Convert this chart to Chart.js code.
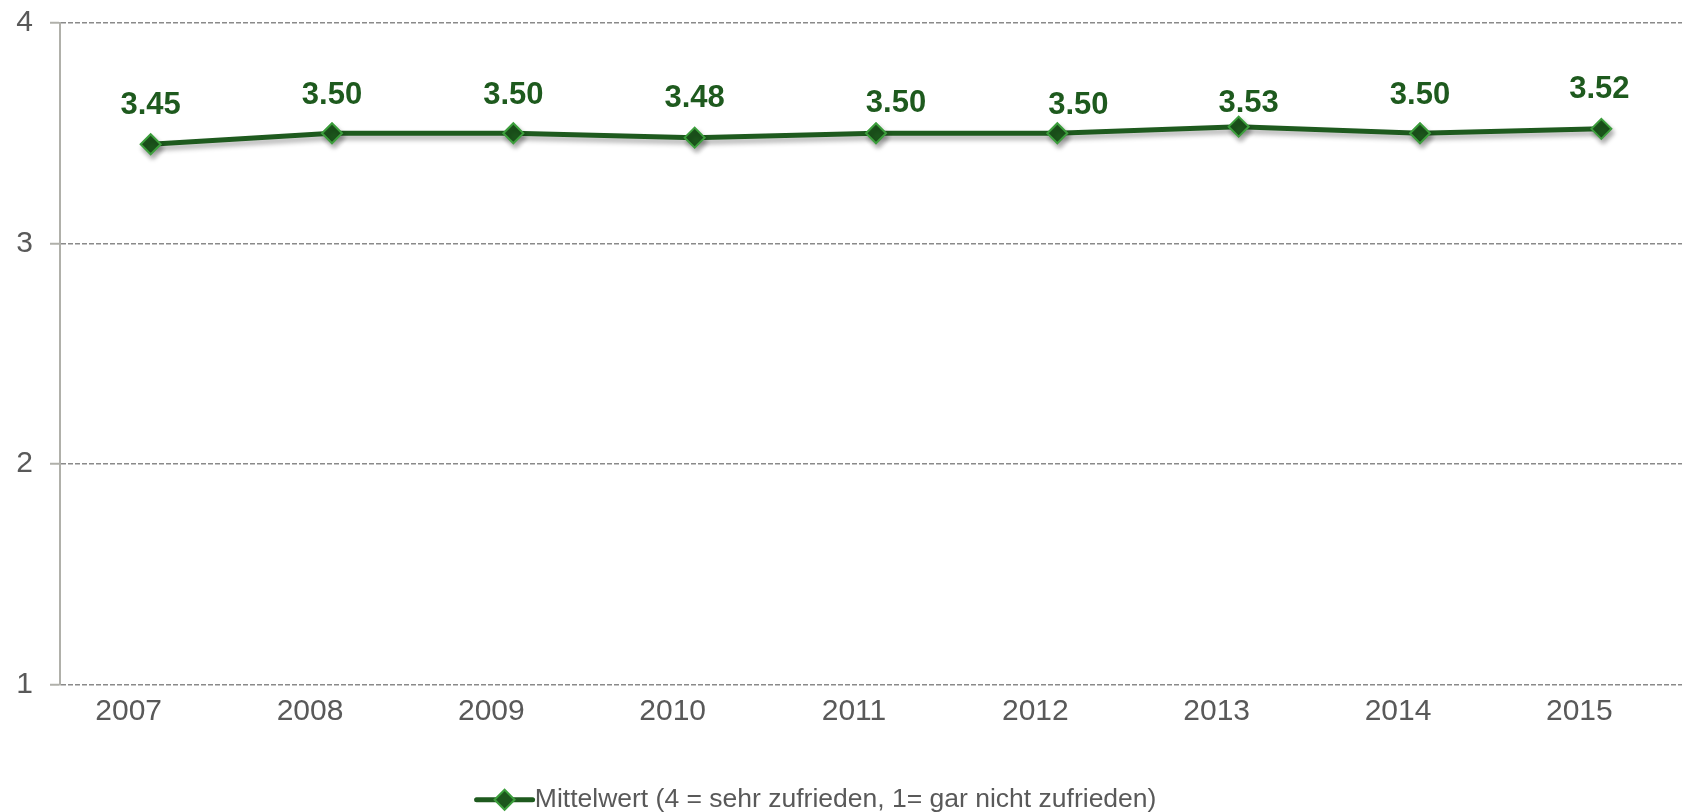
<!DOCTYPE html>
<html>
<head>
<meta charset="utf-8">
<script src="https://cdn.jsdelivr.net/npm/chart.js@4/dist/chart.umd.min.js"></script>
<style>
  html, body { margin: 0; padding: 0; background: #fff; overflow: hidden; width: 1682px; height: 812px; }
  #wrap { position: relative; width: 1682px; height: 812px; overflow: hidden; }
  canvas { display: block; }
</style>
</head>
<body>
<div id="wrap"><canvas id="c" width="1704" height="812"></canvas></div>
<script>
// ---- data ----
const categories = ['2007', '2008', '2009', '2010', '2011', '2012', '2013', '2014', '2015'];
const meanValues = [3.45, 3.50, 3.50, 3.48, 3.50, 3.50, 3.53, 3.50, 3.52];
const yTicks = [1, 2, 3, 4];
const seriesLabel = 'Mittelwert (4 = sehr zufrieden, 1= gar nicht zufrieden)';

// ---- label placement (style, manual offsets like the original) ----
const labelShiftX = [0, 0, 0, 0, 20, 21, 10, 0, -2];
const labelRise   = [39, 38, 38, 39, 30, 28, 23, 38, 39];

const DARK = '#1e5a1e';
const FILL = '#1c561c';
const EDGE = '#3c9e3c';
const TXT = '#595959';
const FONT = "'Liberation Sans', Arial, Helvetica, sans-serif";

const shadowPlugin = {
  id: 'shadow',
  beforeDatasetsDraw(chart) {
    const ctx = chart.ctx;
    ctx.save();
    ctx.shadowColor = 'rgba(0,0,0,0.32)';
    ctx.shadowBlur = 5;
    ctx.shadowOffsetX = 2;
    ctx.shadowOffsetY = 4;
  },
  afterDatasetsDraw(chart) {
    chart.ctx.restore();
    // data labels
    const ctx = chart.ctx;
    const meta = chart.getDatasetMeta(0);
    ctx.save();
    ctx.font = 'bold 31px ' + FONT;
    ctx.fillStyle = DARK;
    ctx.textAlign = 'center';
    ctx.textBaseline = 'middle';
    meta.data.forEach((pt, i) => {
      const v = chart.data.datasets[0].data[i];
      ctx.fillText(v.toFixed(2), pt.x + labelShiftX[i], pt.y - labelRise[i]);
    });
    ctx.restore();
  }
};

const legendPlugin = {
  id: 'legendShift',
  afterLayout(chart) {
    const lg = chart.legend;
    if (lg) { lg.left -= 36; lg.right -= 36; lg.top += 11; lg.bottom += 11; }
  },
  afterDraw(chart) {
    const lg = chart.legend;
    if (!lg || !lg.legendHitBoxes || !lg.legendHitBoxes.length) return;
    const hb = lg.legendHitBoxes[0];
    const ctx = chart.ctx;
    const cy = hb.top + hb.height / 2;
    const x0 = hb.left + 1, x1 = hb.left + 57;
    ctx.save();
    ctx.strokeStyle = DARK;
    ctx.lineWidth = 5;
    ctx.lineCap = 'round';
    ctx.beginPath();
    ctx.moveTo(x0, cy);
    ctx.lineTo(x1, cy);
    ctx.stroke();
    ctx.fillStyle = FILL;
    ctx.strokeStyle = EDGE;
    ctx.lineWidth = 2;
    Chart.helpers.drawPoint(ctx, { pointStyle: 'rectRot', radius: 10, rotation: 0, borderWidth: 2 }, (x0 + x1) / 2, cy);
    ctx.restore();
  }
};

new Chart(document.getElementById('c'), {
  type: 'line',
  data: {
    labels: categories,
    datasets: [{
      label: seriesLabel,
      data: meanValues,
      borderColor: DARK,
      borderWidth: 5,
      backgroundColor: FILL,
      pointStyle: 'rectRot',
      pointRadius: 10,
      pointHoverRadius: 10,
      pointBackgroundColor: FILL,
      pointBorderColor: EDGE,
      pointBorderWidth: 2,
      tension: 0,
      fill: false
    }]
  },
  options: {
    responsive: false,
    maintainAspectRatio: false,
    animation: false,
    events: [],
    layout: { padding: { top: 23, left: 0, right: 0, bottom: 0 } },
    plugins: {
      tooltip: { enabled: false },
      legend: {
        display: true,
        position: 'bottom',
        labels: {
          boxWidth: 46,
          boxHeight: 20,
          padding: 6,
          color: TXT,
          font: { family: FONT, size: 26.5 },
          generateLabels(chart) {
            return [{
              text: seriesLabel,
              fillStyle: 'rgba(0,0,0,0)',
              strokeStyle: 'rgba(0,0,0,0)',
              fontColor: TXT,
              lineWidth: 0,
              datasetIndex: 0,
              hidden: false
            }];
          }
        }
      }
    },
    scales: {
      x: {
        type: 'category',
        offset: true,
        grid: { display: false, drawTicks: false },
        border: { display: false },
        ticks: {
          color: TXT,
          padding: 9,
          labelOffset: -22,
          font: { family: FONT, size: 30 },
          maxRotation: 0,
          autoSkip: false
        },
        afterFit(scale) { scale.height = 85; scale.paddingLeft = 0; scale.paddingRight = 0; }
      },
      y: {
        min: 1,
        max: 4,
        afterBuildTicks(scale) { scale.ticks = yTicks.map(v => ({ value: v })); },
        grid: {
          color: '#8a8a8a',
          lineWidth: 1.5,
          drawTicks: true,
          tickLength: 10,
          tickColor: '#b0b0aa',
          tickWidth: 2,
          tickBorderDash: []
        },
        border: { display: true, color: '#b0b0aa', width: 2, dash: [5, 2] },
        ticks: {
          color: TXT,
          padding: 17,
          font: { family: FONT, size: 30 },
          callback: v => String(v)
        },
        afterFit(scale) { scale.width = 60; scale.paddingTop = 0; scale.paddingBottom = 0; }
      }
    }
  },
  plugins: [shadowPlugin, legendPlugin]
});
</script>
</body>
</html>
